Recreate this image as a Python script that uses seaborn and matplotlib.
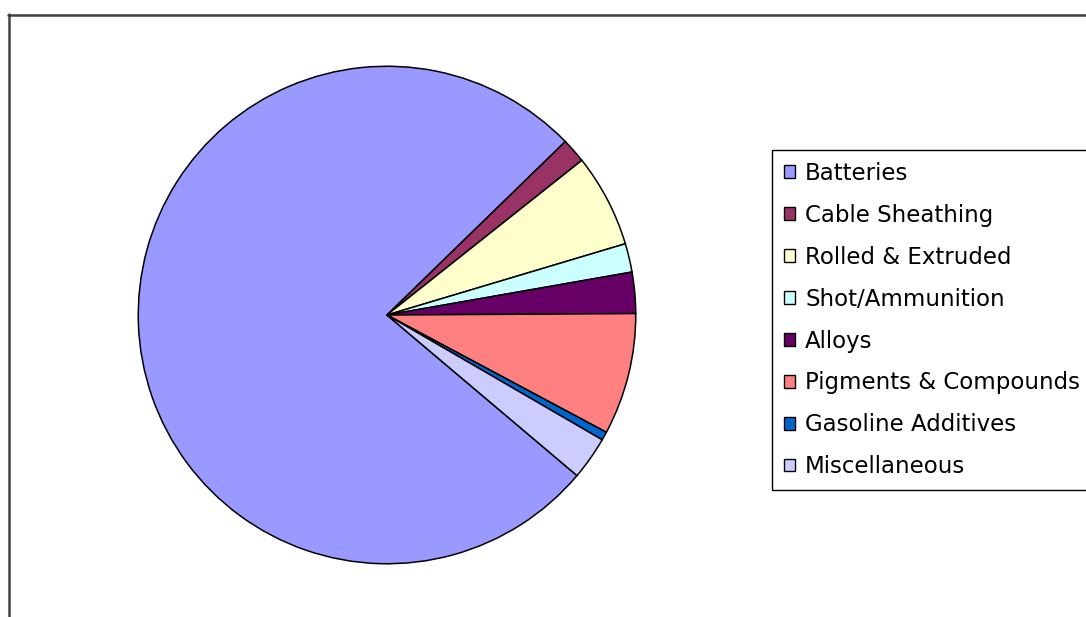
import matplotlib
matplotlib.use("Agg")
import matplotlib.pyplot as plt
import matplotlib.patches as mpatches
from matplotlib.lines import Line2D
import seaborn as sns

categories = ["Batteries", "Cable Sheathing", "Rolled & Extruded", "Shot/Ammunition",
              "Alloys", "Pigments & Compounds", "Gasoline Additives", "Miscellaneous"]
values = [76.5, 1.6, 6.05, 1.86, 2.67, 7.9, 0.55, 2.8]
colors = ["#9999FF", "#993366", "#FFFFCC", "#CCFFFF", "#660066", "#FF8080", "#0066CC", "#CCCCFF"]

sns.set_theme(style="white")
plt.rcParams["font.family"] = ["DejaVu Sans"]

W, H = 1086, 617
fig = plt.figure(figsize=(W / 100, H / 100), dpi=100)
fig.patch.set_facecolor("white")

palette = sns.color_palette(colors)

# pie axes: center (387,315), radius 250 px
cx, cy, r = 387, 315, 250
ax = fig.add_axes([(cx - r) / W, (H - cy - r) / H, 2 * r / W, 2 * r / H])
ax.pie(values, colors=palette, startangle=-40.2, counterclock=False,
       wedgeprops=dict(edgecolor="black", linewidth=1.1))
ax.set_xlim(-1.005, 1.005)
ax.set_ylim(-1.005, 1.005)
ax.set_aspect("auto")
ax.axis("off")

# outer frame (clipped at right and bottom)
fig.add_artist(Line2D([8.5 / W, 8.5 / W], [0, 1 - 14 / H], transform=fig.transFigure,
                      color="#404040", linewidth=1.8))
fig.add_artist(Line2D([8 / W, 1], [1 - 14.5 / H, 1 - 14.5 / H], transform=fig.transFigure,
                      color="#404040", linewidth=1.8))

handles = [mpatches.Patch(facecolor=c, edgecolor="black", linewidth=1.0) for c in palette]
leg = fig.legend(handles, categories, loc="upper left",
                 bbox_to_anchor=(772 / W, 1 - 150 / H),
                 fontsize=16.5, frameon=True, fancybox=False, framealpha=1,
                 edgecolor="black", borderpad=0.52, labelspacing=0.825,
                 handlelength=0.48, handleheight=0.48, handletextpad=0.45,
                 borderaxespad=0, labelcolor="black")
leg.get_frame().set_linewidth(1.0)

fig.savefig("out.png", dpi=100)
